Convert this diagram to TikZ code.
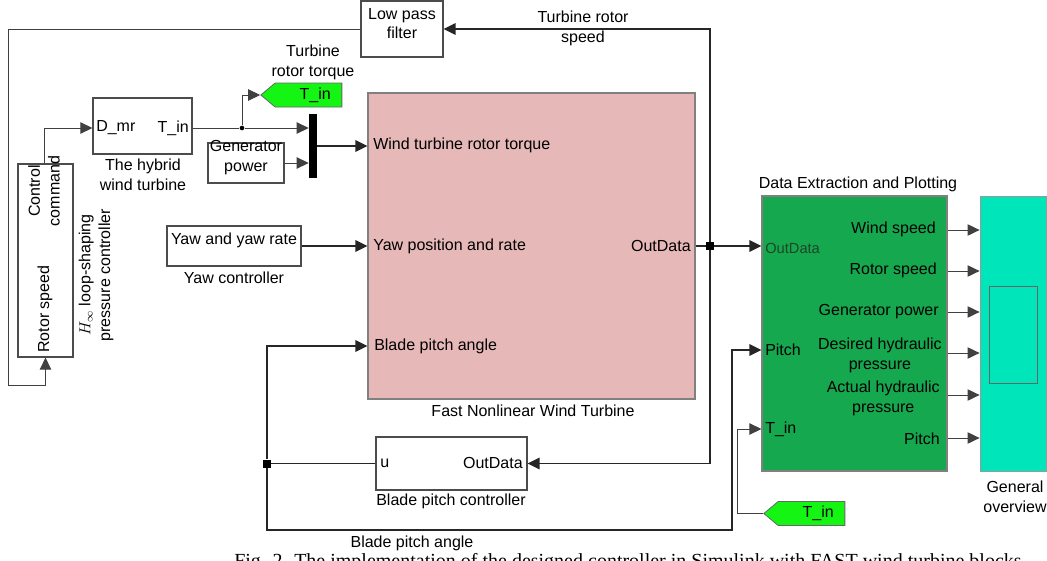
\documentclass[tikz,border=0pt]{standalone}
\usepackage{fontspec}
\setmainfont{Liberation Sans}
\newfontfamily\capfont{Liberation Serif}
\usetikzlibrary{arrows.meta,fit,shapes.symbols}
\definecolor{pinkc}{RGB}{230,184,183}
\definecolor{depg}{RGB}{22,168,78}
\definecolor{tealc}{RGB}{0,230,186}
\definecolor{tagg}{RGB}{20,245,20}
\definecolor{porttxt}{RGB}{30,70,40}
\begin{document}
\begin{tikzpicture}[x=0.75pt,y=-0.75pt,
  font=\fontsize{12}{14.8}\selectfont,
  blk/.style={draw=black!70, line width=0.8pt, inner sep=0pt, fill=white, align=center},
  wire/.style={line width=1.4pt, draw=black!85},
  thinw/.style={line width=0.7pt, draw=black!75},
  arr/.style={-{Triangle[length=9pt,width=8.5pt]}},
  lbl/.style={inner sep=0pt, align=center},
  dot/.style={circle, fill=black, inner sep=0pt, minimum size=5pt},
  tagstyle/.style={signal, signal to=west, signal pointer angle=80, fill=tagg, draw=black!60,
     line width=0.6pt, inner sep=0pt, minimum width={81*0.75pt}, minimum height={24*0.75pt}}]
\useasboundingbox (0,0) rectangle (1047,561);

% ---------- blocks ----------
\node[blk, fit={(361,1)(443,57)}] (lpf) {Low pass\\filter};
\node[blk, fit={(18,164)(73,357)}] (hinf) {};
\node[lbl, rotate=90] (cc) at (44,191) {Control\\command};
\node[lbl, rotate=90] (rs) at (45,309) {Rotor speed};
\node[lbl, rotate=90] (hl) at (96,275) {$H_{\infty}$ loop-shaping\\pressure controller};

\node[blk, fit={(93,98)(192,154)}] (hyb) {};
\node[lbl, anchor=west] (dmr) at (96,128) {D\_mr};
\node[lbl, anchor=east] (tin) at (189,128) {T\_in};
\node[lbl] (hybl) at (143,175) {The hybrid\\wind turbine};

\node[tagstyle] (tag1) at (308.5,95) {\hspace*{10pt}T\_in};
\node[lbl] (trt) at (313,62) {Turbine\\rotor torque};

\node[fill=black, inner sep=0pt, fit={(309,114)(317,178)}] (mux) {};
\node[blk, fit={(208,143)(284,183)}] (gen) {Generator\\power};

\node[fill=pinkc, draw=black!50, line width=0.8pt, inner sep=0pt, fit={(368,93)(695,399)}] (fast) {};
\node[lbl, anchor=west] (p1) at (373,145) {Wind turbine rotor torque};
\node[lbl, anchor=west] (p2) at (373,246) {Yaw position and rate};
\node[lbl, anchor=west] (p3) at (374,346) {Blade pitch angle};
\node[lbl, anchor=east] (p4) at (691,246) {OutData};
\node[lbl] (fastl) at (533,411) {Fast Nonlinear Wind Turbine};

\node[blk, fit={(167,226)(301,266)}] (yaw) {Yaw and yaw rate};
\node[lbl] (yawl) at (234,278) {Yaw controller};

\node[lbl] (trs) at (583,28) {Turbine rotor\\speed};

\node[blk, fit={(376,437)(527,490)}] (bpc) {};
\node[lbl, anchor=west] (u) at (380,463) {u};
\node[lbl, anchor=east] (bpo) at (523,463) {OutData};
\node[lbl] (bpcl) at (451,501) {Blade pitch controller};
\node[lbl] (bpa) at (412,543) {Blade pitch angle};

\node[fill=depg, draw=black!50, line width=0.8pt, inner sep=0pt, fit={(762,196)(947,471)}] (dep) {};
\node[lbl] (depl) at (858,184) {Data Extraction and Plotting};
\node[lbl, anchor=west, text=porttxt, font=\fontsize{11}{13}\selectfont] (din1) at (765,248) {OutData};
\node[lbl, anchor=west] (din2) at (765,350) {Pitch};
\node[lbl, anchor=west] (din3) at (765,429) {T\_in};
\node[lbl, anchor=east] (o1) at (936,229) {Wind speed};
\node[lbl, anchor=east] (o2) at (937,270) {Rotor speed};
\node[lbl, anchor=east] (o3) at (939,312) {Generator power};
\node[lbl, anchor=east] (o4) at (942,355) {Desired hydraulic\\pressure};
\node[lbl, anchor=east] (o5) at (940,398) {Actual hydraulic\\pressure};
\node[lbl, anchor=east] (o6) at (940,439) {Pitch};

\node[fill=tealc, draw=black!40, line width=0.6pt, inner sep=0pt, fit={(980,196)(1046,471)}] (gov) {};
\node[draw=black!60, line width=0.6pt, inner sep=0pt, fit={(989,286)(1037,383)}] (scr) {};
\node[lbl] (govl) at (1015,497) {General\\overview};

\node[tagstyle] (tag2) at (811.5,513.5) {\hspace*{10pt}T\_in};

% ---------- junctions ----------
\node[dot, minimum size=3.5pt] (j1) at (242,128) {};
\node[fill=black, inner sep=0pt, minimum size=6pt] (j2) at (710,246) {};
\node[fill=black, inner sep=0pt, minimum size=6pt] (j3) at (267,463.5) {};

% ---------- connectors ----------
\draw[thinw, arr] (lpf.west) -- (8,29) -- (8,385) -| (hinf.south);
\draw[thinw, arr] (hinf.north -| cc) |- (hyb.west |- dmr);
\draw[thinw] (hyb.east |- tin) -- (j1);
\draw[thinw, arr] (j1) -- (mux.west |- j1);
\draw[thinw, arr] (j1) |- (tag1.west);
\draw[thinw, arr] (gen.east) -- (mux.west |- gen.east);
\draw[wire, arr] (mux.east) -- (fast.west |- mux.east);
\draw[wire, arr] (yaw.east) -- (fast.west |- yaw.east);
\draw[wire] (fast.east |- p4) -- (j2);
\draw[wire, arr] (j2) -- (dep.west |- j2);
\draw[wire, arr] (j2) |- (lpf.east);
\draw[wire, arr] (j2) |- (bpc.east);
\draw[wire] (bpc.west) -- (j3);
\draw[wire, arr] (j3) |- (fast.west |- p3);
\draw[wire, arr] (j3) -- (267,530) -- (732,530) |- (dep.west |- din2);
\draw[thinw, arr] (tag2.west) -- (737,513.5) |- (dep.west |- din3);
\foreach \o/\y in {o1/230,o2/271,o3/312,o4/353,o5/395,o6/438}{
  \draw[thinw, arr] (dep.east |- 0,\y) -- (gov.west |- 0,\y);
}

% ---------- caption (cut at the page edge, as in the reference) ----------
\begin{scope}
\clip (0,0) rectangle (1047,561);
\node[inner sep=0pt, anchor=base west, font=\capfont\fontsize{15}{17}\selectfont] (cap) at (234,567)
  {Fig. 2. The implementation of the designed controller in Simulink with FAST wind turbine blocks};
\end{scope}
\end{tikzpicture}
\end{document}
